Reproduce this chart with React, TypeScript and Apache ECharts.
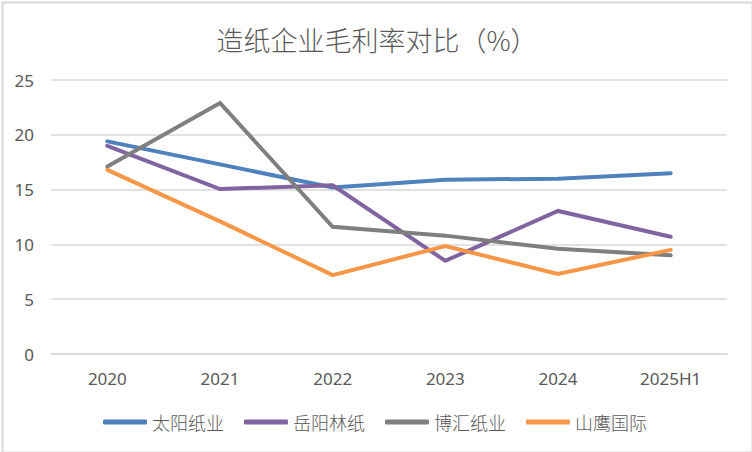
import React, { useEffect, useRef } from "react";
import * as echarts from "echarts";

const categories = ["2020", "2021", "2022", "2023", "2024", "2025H1"];
const seriesNames = ["太阳纸业", "岳阳林纸", "博汇纸业", "山鹰国际"];
const taiyang = [19.4, 17.3, 15.2, 15.9, 16.0, 16.5];
const yueyang = [19.0, 15.05, 15.4, 8.5, 13.05, 10.7];
const bohui = [17.1, 22.9, 11.6, 10.8, 9.6, 9.0];
const shanying = [16.8, 12.1, 7.2, 9.85, 7.3, 9.5];
const colors = ["#4F81BD", "#8064A2", "#7F7F7F", "#F79646"];

export default function App() {
  const ref = useRef<HTMLDivElement>(null);
  useEffect(() => {
    if (!ref.current) return;
    const chart = echarts.init(ref.current, undefined, { renderer: "svg" });
    const values = [taiyang, yueyang, bohui, shanying];
    const cjk = "'Noto Sans CJK SC', 'Noto Sans', sans-serif";
    const latin = "'Noto Sans', 'Open Sans', sans-serif";
    chart.setOption({
      animation: false,
      backgroundColor: "#ffffff",
      color: colors,
      title: {
        text: "造纸企业毛利率对比（%）",
        left: 372,
        textAlign: "center",
        top: 21,
        textStyle: { fontSize: 27, fontWeight: 300, color: "#595959", fontFamily: cjk },
      },
      legend: {
        top: 408,
        left: 98,
        itemWidth: 44,
        itemHeight: 5,
        itemGap: 20,
        icon: "roundRect",
        textStyle: { fontSize: 18, fontWeight: 300, color: "#595959", fontFamily: cjk },
        data: seriesNames,
      },
      grid: { left: 51, right: 25, top: 80, bottom: 98 },
      xAxis: {
        type: "category",
        data: categories,
        boundaryGap: true,
        axisLine: { show: true, lineStyle: { color: "#d9d9d9", width: 1.5 } },
        axisTick: { show: false },
        axisLabel: { fontSize: 17, color: "#595959", margin: 16, fontFamily: latin },
      },
      yAxis: {
        type: "value",
        min: 0,
        max: 25,
        interval: 5,
        axisLine: { show: false },
        axisTick: { show: false },
        splitLine: { lineStyle: { color: "#d9d9d9", width: 1.5 } },
        axisLabel: { fontSize: 17, color: "#595959", margin: 17, fontFamily: latin },
      },
      series: seriesNames.map((name, i) => ({
        name,
        type: "line",
        data: values[i],
        symbol: "none",
        lineStyle: { width: 4, color: colors[i], cap: "round", join: "miter" },
        itemStyle: { color: colors[i] },
      })),
      graphic: [
        {
          type: "rect",
          left: 0,
          top: 0,
          shape: { x: 1, y: 1, width: 750, height: 450 },
          style: { fill: "none", stroke: "#d9d9d9", lineWidth: 2 },
          silent: true,
        },
      ],
    });
    return () => chart.dispose();
  }, []);
  return (
    <div
      ref={ref}
      style={{ position: "fixed", left: 0, top: 0, width: 752, height: 452 }}
    />
  );
}
